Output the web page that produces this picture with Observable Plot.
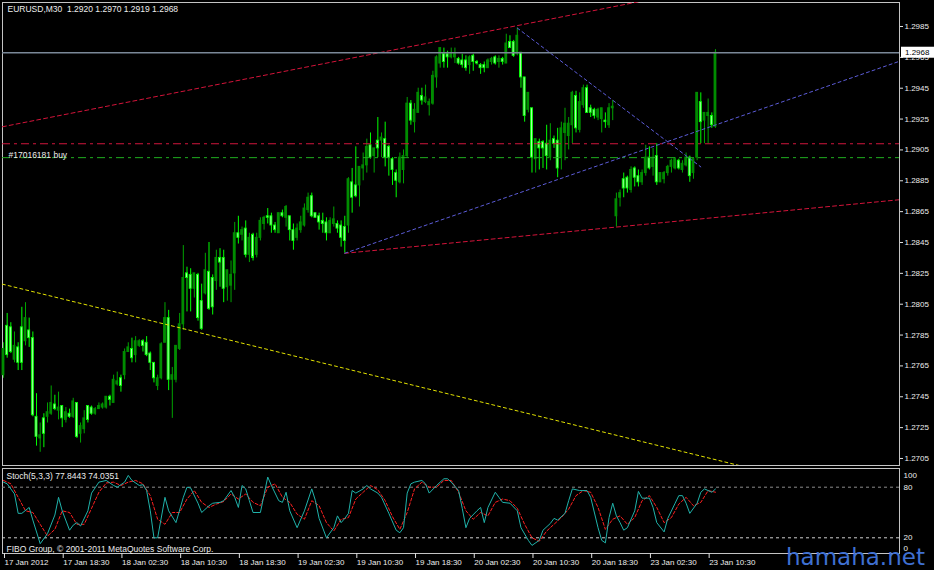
<!DOCTYPE html>
<html>
<head>
<meta charset="utf-8">
<script src="https://cdn.jsdelivr.net/npm/d3@7"></script>
<script src="https://cdn.jsdelivr.net/npm/@observablehq/plot@0.6"></script>
<style>
  html, body { margin: 0; padding: 0; background: #000; }
  #chart { position: relative; width: 934px; height: 570px; background: #000; overflow: hidden; }
  #chart > svg { position: absolute; left: 0; }
  #wm { position: absolute; left: 786px; top: 546px; font: 23px "DejaVu Sans", sans-serif; line-height: 23px; color: #3f70d2; white-space: nowrap; }
</style>
</head>
<body>
<div id="chart"></div>
<script>
// ---------- data (EURUSD M30) ----------
const titleText = "EURUSD,M30\u00a0\u00a01.2920 1.2970 1.2919 1.2968";
const stochTitle = "Stoch(5,3,3) 77.8443 74.0351";
const copyright = "FIBO Group, \u00a9 2001-2011 MetaQuotes Software Corp.";
const orderLabel = "#17016181 buy";
const watermark = "hamaha.net";

const openP = [1.2759,1.2791,1.2790,1.2769,1.2777,1.2790,1.2781,1.2788,1.2783,1.2732,
1.2718,1.2731,1.2732,1.2734,1.2740,1.2736,1.2739,1.2730,1.2734,1.2732,
1.2741,1.2721,1.2724,1.2739,1.2738,1.2734,1.2737,1.2738,1.2738,1.2745,
1.2741,1.2753,1.2757,1.2759,1.2774,1.2776,1.2772,1.2778,1.2781,1.2780,
1.2773,1.2767,1.2752,1.2757,1.2780,1.2796,1.2756,1.2756,1.2776,1.2792,
1.2825,1.2824,1.2815,1.2824,1.2807,1.2812,1.2826,1.2822,1.2820,1.2835,
1.2835,1.2816,1.2817,1.2825,1.2851,1.2850,1.2854,1.2837,1.2850,1.2837,
1.2848,1.2857,1.2862,1.2862,1.2856,1.2851,1.2864,1.2861,1.2862,1.2853,
1.2848,1.2853,1.2856,1.2866,1.2875,1.2864,1.2862,1.2859,1.2858,1.2851,
1.2857,1.2857,1.2856,1.2855,1.2856,1.2884,1.2882,1.2882,1.2893,1.2895,
1.2908,1.2901,1.2911,1.2911,1.2912,1.2907,1.2899,1.2890,1.2884,1.2892,
1.2901,1.2935,1.2923,1.2929,1.2940,1.2936,1.2934,1.2935,1.2952,1.2961,
1.2967,1.2967,1.2965,1.2965,1.2964,1.2963,1.2963,1.2960,1.2966,1.2962,
1.2960,1.2960,1.2958,1.2962,1.2965,1.2962,1.2964,1.2961,1.2975,1.2975,
1.2967,1.2968,1.2952,1.2931,1.2932,1.2899,1.2910,1.2910,1.2909,1.2900,
1.2912,1.2911,1.2900,1.2916,1.2914,1.2921,1.2940,1.2918,1.2934,1.2945,
1.2932,1.2931,1.2926,1.2925,1.2924,1.2921,1.2932,1.2862,1.2874,1.2886,
1.2887,1.2879,1.2893,1.2888,1.2884,1.2890,1.2900,1.2894,1.2901,1.2884,
1.2886,1.2890,1.2894,1.2893,1.2898,1.2892,1.2895,1.2900,1.2890,1.2900,
1.2936,1.2924,1.2927,1.2927,1.2920];

const highP = [1.2780,1.2799,1.2793,1.2787,1.2780,1.2803,1.2806,1.2796,1.2787,1.2747,
1.2728,1.2734,1.2741,1.2752,1.2746,1.2748,1.2739,1.2738,1.2737,1.2744,
1.2741,1.2728,1.2736,1.2739,1.2739,1.2738,1.2741,1.2741,1.2745,1.2746,
1.2759,1.2761,1.2759,1.2776,1.2780,1.2783,1.2784,1.2782,1.2782,1.2784,
1.2774,1.2767,1.2759,1.2780,1.2806,1.2801,1.2764,1.2778,1.2799,1.2843,
1.2829,1.2828,1.2825,1.2825,1.2818,1.2838,1.2845,1.2824,1.2840,1.2841,
1.2840,1.2827,1.2833,1.2858,1.2862,1.2855,1.2859,1.2851,1.2851,1.2851,
1.2861,1.2862,1.2867,1.2864,1.2858,1.2864,1.2866,1.2869,1.2862,1.2857,
1.2857,1.2862,1.2870,1.2877,1.2877,1.2864,1.2864,1.2864,1.2861,1.2861,
1.2868,1.2859,1.2859,1.2862,1.2887,1.2893,1.2907,1.2894,1.2903,1.2912,
1.2916,1.2906,1.2926,1.2916,1.2923,1.2908,1.2900,1.2892,1.2903,1.2905,
1.2939,1.2937,1.2935,1.2945,1.2945,1.2947,1.2938,1.2956,1.2966,1.2971,
1.2971,1.2969,1.2971,1.2971,1.2965,1.2967,1.2966,1.2966,1.2967,1.2963,
1.2961,1.2962,1.2964,1.2965,1.2966,1.2966,1.2965,1.2980,1.2979,1.2976,
1.2984,1.2968,1.2952,1.2942,1.2932,1.2912,1.2912,1.2911,1.2921,1.2922,
1.2914,1.2919,1.2923,1.2932,1.2926,1.2943,1.2943,1.2942,1.2947,1.2947,
1.2934,1.2932,1.2932,1.2932,1.2929,1.2935,1.2937,1.2877,1.2879,1.2890,
1.2888,1.2894,1.2894,1.2892,1.2892,1.2908,1.2907,1.2906,1.2909,1.2890,
1.2891,1.2895,1.2899,1.2900,1.2899,1.2898,1.2903,1.2901,1.2899,1.2942,
1.2942,1.2929,1.2938,1.2929,1.2970];

const lowP = [1.2757,1.2770,1.2773,1.2767,1.2762,1.2762,1.2778,1.2777,1.2732,1.2713,
1.2709,1.2712,1.2728,1.2733,1.2736,1.2730,1.2725,1.2728,1.2731,1.2731,
1.2718,1.2715,1.2721,1.2728,1.2733,1.2733,1.2737,1.2737,1.2737,1.2739,
1.2741,1.2752,1.2748,1.2756,1.2774,1.2767,1.2767,1.2777,1.2774,1.2771,
1.2762,1.2754,1.2749,1.2756,1.2780,1.2749,1.2731,1.2754,1.2775,1.2788,
1.2800,1.2800,1.2809,1.2794,1.2788,1.2811,1.2801,1.2798,1.2814,1.2816,
1.2806,1.2807,1.2806,1.2814,1.2844,1.2846,1.2835,1.2832,1.2833,1.2835,
1.2846,1.2853,1.2857,1.2851,1.2851,1.2851,1.2861,1.2855,1.2846,1.2840,
1.2846,1.2851,1.2855,1.2864,1.2861,1.2861,1.2853,1.2851,1.2846,1.2851,
1.2855,1.2851,1.2842,1.2838,1.2851,1.2864,1.2874,1.2868,1.2885,1.2890,
1.2899,1.2890,1.2900,1.2900,1.2894,1.2888,1.2882,1.2874,1.2883,1.2883,
1.2900,1.2921,1.2916,1.2929,1.2934,1.2935,1.2927,1.2934,1.2945,1.2958,
1.2958,1.2958,1.2964,1.2961,1.2960,1.2958,1.2956,1.2954,1.2956,1.2960,
1.2954,1.2955,1.2958,1.2960,1.2960,1.2958,1.2960,1.2961,1.2971,1.2965,
1.2966,1.2945,1.2923,1.2929,1.2890,1.2890,1.2892,1.2893,1.2892,1.2898,
1.2906,1.2887,1.2892,1.2898,1.2905,1.2909,1.2916,1.2916,1.2932,1.2929,
1.2926,1.2925,1.2924,1.2916,1.2919,1.2919,1.2924,1.2855,1.2868,1.2874,
1.2877,1.2877,1.2881,1.2881,1.2882,1.2888,1.2892,1.2888,1.2882,1.2884,
1.2883,1.2888,1.2890,1.2892,1.2892,1.2890,1.2894,1.2884,1.2886,1.2898,
1.2909,1.2909,1.2909,1.2919,1.2919];

const closeP = [1.2776,1.2772,1.2774,1.2778,1.2767,1.2767,1.2796,1.2783,1.2733,1.2719,
1.2720,1.2721,1.2735,1.2741,1.2737,1.2738,1.2731,1.2735,1.2732,1.2742,
1.2719,1.2726,1.2731,1.2730,1.2734,1.2737,1.2739,1.2740,1.2745,1.2743,
1.2756,1.2755,1.2752,1.2774,1.2777,1.2770,1.2781,1.2781,1.2778,1.2772,
1.2767,1.2757,1.2757,1.2779,1.2796,1.2756,1.2759,1.2778,1.2792,1.2822,
1.2822,1.2815,1.2825,1.2796,1.2789,1.2827,1.2802,1.2803,1.2835,1.2832,
1.2815,1.2827,1.2824,1.2851,1.2848,1.2853,1.2837,1.2848,1.2835,1.2848,
1.2859,1.2861,1.2861,1.2856,1.2853,1.2864,1.2862,1.2868,1.2853,1.2846,
1.2854,1.2858,1.2867,1.2874,1.2862,1.2861,1.2858,1.2857,1.2851,1.2859,
1.2860,1.2854,1.2848,1.2846,1.2886,1.2874,1.2875,1.2894,1.2895,1.2907,
1.2900,1.2906,1.2906,1.2913,1.2900,1.2900,1.2892,1.2885,1.2900,1.2901,
1.2935,1.2924,1.2931,1.2942,1.2937,1.2939,1.2936,1.2953,1.2965,1.2971,
1.2962,1.2965,1.2967,1.2967,1.2961,1.2960,1.2958,1.2965,1.2962,1.2961,
1.2958,1.2958,1.2963,1.2964,1.2961,1.2964,1.2962,1.2974,1.2971,1.2966,
1.2979,1.2952,1.2927,1.2942,1.2900,1.2912,1.2906,1.2906,1.2901,1.2911,
1.2909,1.2893,1.2919,1.2922,1.2922,1.2942,1.2919,1.2936,1.2945,1.2929,
1.2929,1.2927,1.2931,1.2932,1.2923,1.2932,1.2933,1.2873,1.2877,1.2880,
1.2880,1.2892,1.2887,1.2884,1.2890,1.2900,1.2893,1.2900,1.2884,1.2890,
1.2890,1.2894,1.2898,1.2899,1.2893,1.2896,1.2900,1.2888,1.2899,1.2942,
1.2923,1.2929,1.2929,1.2921,1.2968];

// time axis (bar index -> label)
const timeTickIdx = [0,16,32,48,64,80,96,112,128,144,160,176,192];
const timeTickLabels = ["17 Jan 2012","17 Jan 18:30","18 Jan 02:30","18 Jan 10:30","18 Jan 18:30",
  "19 Jan 02:30","19 Jan 10:30","19 Jan 18:30","20 Jan 02:30","20 Jan 10:30","20 Jan 18:30",
  "23 Jan 02:30","23 Jan 10:30"];

// price axis ticks
const priceTicks = [1.2985,1.2965,1.2945,1.2925,1.2905,1.2885,1.2865,1.2845,1.2825,1.2805,1.2785,1.2765,1.2745,1.2725,1.2705];

// horizontal order lines
const levelPrices = [1.2909, 1.2900];
const levelColors = ["#d0163c", "#1fae1f"];

// trend lines: anchor points (bar index, price)
const trendX1 = [-0.3, 93, 93, 140, -0.3];
const trendY1 = [1.2920, 1.2838, 1.2838, 1.2984, 1.2818];
const trendX2 = [140.9, 167, 178, 190, 64.6];
const trendY2 = [1.2986, 1.2855, 1.2908, 1.2894, 1.2780];
const trendRay = [true, true, true, false, true];
const trendColors = ["#d4143a", "#d4143a", "#5c5cd8", "#5c5cd8", "#e2e200"];
const trendDash = ["4,3", "4,3", "3,3", "3,3", "3,3"];

// stochastic %K (main) and %D (signal)
const kIdx = [0,1,3,4,5,7,8,10,12,14,15,16,18,19,20,21,23,24,26,28,30,31,33,34,35,37,38,39,40,41,
42,44,45,47,49,50,51,53,54,56,57,59,60,62,63,64,65,66,67,68,70,72,73,75,76,77,78,80,82,84,
85,86,88,90,91,92,93,94,95,96,98,99,100,102,103,105,107,108,109,110,111,112,114,115,116,118,120,121,122,124,
125,126,127,129,130,131,132,134,135,136,138,140,141,143,144,146,147,149,150,151,153,154,155,157,159,160,162,163,164,165,
166,167,168,169,170,172,173,174,176,177,178,180,181,183,184,185,186,187,189,190,191,193,194];
const kVal = [86,84,72,49,49,56,41,13,25,47,68,52,29,35,38,34,52,73,86,88,82,80,86,94,88,82,83,76,52,20,
20,68,52,38,68,80,79,61,50,58,61,62,64,76,68,56,82,78,64,50,50,92,82,64,62,74,52,32,52,78,
64,43,20,32,46,38,43,49,76,73,78,82,78,73,68,49,29,26,32,73,84,86,88,84,73,82,90,90,86,76,
55,32,43,52,56,38,56,74,68,62,61,52,32,17,11,17,29,37,43,41,49,64,78,76,76,68,32,17,14,44,
61,46,38,29,32,52,75,67,67,56,38,27,43,61,70,70,61,49,61,74,78,74,77.84];
const dIdx = [0,2,4,6,8,10,12,14,16,18,20,22,24,26,28,30,32,34,36,38,40,42,44,46,48,50,52,54,56,58,
60,62,64,66,68,70,72,74,76,78,80,82,84,86,88,90,92,94,96,98,100,102,104,106,108,110,112,114,116,118,
120,122,124,126,128,130,132,134,136,138,140,142,144,146,148,150,152,154,156,158,160,162,164,166,168,170,172,174,176,178,
180,182,184,186,188,190,192,194];
const dVal = [88,84,68,52,50,36,22,30,52,50,36,36,55,74,85,86,82,86,88,84,70,42,36,50,50,66,76,62,56,60,
63,72,66,72,62,58,80,84,68,62,48,42,64,58,38,28,42,44,66,74,82,77,64,45,30,50,78,86,80,80,
88,88,74,52,42,50,46,62,66,64,55,36,20,16,28,36,44,54,70,76,74,56,30,42,46,36,44,64,70,56,
38,44,60,68,58,62,76,74.04];
const stochLevels = [80, 20];
const stochLabelVals = [100, 80, 20, 0];
const stochLabelText = ["100", "80", "20", "0"];

// ---------- rendering ----------
const FONT = "'Liberation Sans', Arial, sans-serif";
const TXT = "#ececec";
const xDomain = [-0.27, 244.14];

const bars = openP.map((o, i) => ({i, o, h: highP[i], l: lowP[i], c: closeP[i]}));
const bull = bars.filter(d => d.c > d.o);
const bear = bars.filter(d => d.c <= d.o);

function trendSegment(k) {
  const x1 = trendX1[k], y1 = trendY1[k], x2 = trendX2[k], y2 = trendY2[k];
  if (!trendRay[k]) return [{x: x1, y: y1}, {x: x2, y: y2}];
  const slope = (y2 - y1) / (x2 - x1);
  const xe = xDomain[1];
  return [{x: x1, y: y1}, {x: xe, y: y1 + slope * (xe - x1)}];
}

const lastClose = closeP[closeP.length - 1];

const main = Plot.plot({
  width: 934, height: 466,
  marginLeft: 2, marginRight: 35, marginTop: 2, marginBottom: 1,
  style: {background: "#000", color: TXT, fontFamily: FONT, fontSize: "8px", overflow: "visible"},
  x: {domain: xDomain, axis: null, label: null},
  y: {domain: [1.270045, 1.300056], axis: null, label: null},
  marks: [
    Plot.frame({stroke: "#c4c4c4"}),
    // wicks
    Plot.ruleX(bull, {x: "i", y1: "l", y2: "h", stroke: "#00a400", strokeWidth: 1}),
    Plot.ruleX(bear, {x: "i", y1: "l", y2: "h", stroke: "#00ff00", strokeWidth: 1}),
    // bodies
    Plot.rect(bull, {x1: d => d.i - 0.38, x2: d => d.i + 0.38, y1: "o", y2: "c", fill: "#008c00", insetTop: -0.5, insetBottom: -0.5}),
    Plot.rect(bear, {x1: d => d.i - 0.27, x2: d => d.i + 0.27, y1: "o", y2: "c", fill: "#a4ffa4", stroke: "#00ff00", strokeWidth: 0.9}),
    // order lines
    ...levelPrices.map((p, k) => Plot.ruleY([p], {stroke: levelColors[k], strokeDasharray: "8,4,3,4", strokeWidth: 1})),
    // trend lines
    ...trendX1.map((_, k) => Plot.line(trendSegment(k), {x: "x", y: "y", stroke: trendColors[k], strokeDasharray: trendDash[k], strokeWidth: 1, clip: true})),
    // bid line
    Plot.ruleY([lastClose], {stroke: "#7a8898", strokeWidth: 1.5}),
    Plot.axisY({anchor: "right", ticks: priceTicks, tickFormat: d3.format(".4f"), tickSize: 3, tickPadding: 2, stroke: "#e0e0e0", fill: TXT, fontSize: 8}),
    Plot.text([titleText], {frameAnchor: "top-left", dx: 5, dy: 3, lineAnchor: "top", textAnchor: "start", fill: TXT, fontSize: 8.5}),
    Plot.text([{t: orderLabel, y: levelPrices[1]}], {text: "t", y: "y", frameAnchor: "left", dx: 6, textAnchor: "start", lineAnchor: "bottom", fill: TXT, fontSize: 8.5})
  ]
});

// current price label box on the price axis
{
  const ys = main.scale("y");
  const yScale = d3.scaleLinear(ys.domain, ys.range);
  const yy = yScale(lastClose);
  const g = d3.select(main).append("g");
  g.append("rect").attr("x", 901).attr("y", yy - 5.5).attr("width", 33).attr("height", 11).attr("fill", "#ffffff");
  g.append("text").attr("x", 905).attr("y", yy).attr("dy", "0.35em").attr("fill", "#000")
    .attr("text-anchor", "start")
    .attr("font-family", FONT).attr("font-size", 8).text(d3.format(".4f")(lastClose));
}

const kData = kIdx.map((i, j) => ({i, v: kVal[j]}));
const dData = dIdx.map((i, j) => ({i, v: dVal[j]}));

const stoch = Plot.plot({
  width: 934, height: 104,
  marginLeft: 2, marginRight: 35, marginTop: 2, marginBottom: 17,
  style: {background: "#000", color: TXT, fontFamily: FONT, fontSize: "8px", overflow: "visible"},
  x: {domain: xDomain, axis: null, label: null},
  y: {domain: [1.39, 102.17], axis: null, label: null},
  marks: [
    Plot.frame({stroke: "#c4c4c4"}),
    Plot.ruleY([stochLevels[0]], {stroke: "#8c8c8c", strokeDasharray: "3,3"}),
    Plot.ruleY([stochLevels[1]], {stroke: "#cfcfcf", strokeDasharray: "3,3"}),
    Plot.line(dData, {x: "i", y: "v", stroke: "#ff2020", strokeDasharray: "3,2", strokeWidth: 1}),
    Plot.line(kData, {x: "i", y: "v", stroke: "#20b2aa", strokeWidth: 1}),
    Plot.axisX({anchor: "bottom", ticks: timeTickIdx, tickFormat: d => timeTickLabels[timeTickIdx.indexOf(d)],
      tickSize: 5, tickPadding: 1, textAnchor: "start", dx: 1, stroke: "#e0e0e0", fill: TXT, fontSize: 8}),
    Plot.text([{t: stochLabelText[0], v: stochLabelVals[0]}], {text: "t", y: "v", frameAnchor: "right", dx: 4, dy: 5, textAnchor: "start", fill: TXT, fontSize: 8}),
    Plot.text([1, 2].map(k => ({t: stochLabelText[k], v: stochLabelVals[k]})), {text: "t", y: "v", frameAnchor: "right", dx: 4, textAnchor: "start", fill: TXT, fontSize: 8}),
    Plot.text([{t: stochLabelText[3], v: stochLabelVals[3]}], {text: "t", y: "v", frameAnchor: "right", dx: 4, dy: -6, textAnchor: "start", fill: TXT, fontSize: 8}),
    Plot.text([stochTitle], {frameAnchor: "top-left", dx: 4, dy: 4, lineAnchor: "top", textAnchor: "start", fill: TXT, fontSize: 8.5}),
    Plot.text([copyright], {frameAnchor: "bottom-left", dx: 4, dy: -2, lineAnchor: "bottom", textAnchor: "start", fill: TXT, fontSize: 8.5})
  ]
});

const chart = document.getElementById("chart");
main.style.top = "0px";
stoch.style.top = "466px";
chart.appendChild(main);
chart.appendChild(stoch);
const wm = document.createElement("div");
wm.id = "wm";
wm.textContent = watermark;
chart.appendChild(wm);
</script>
</body>
</html>
